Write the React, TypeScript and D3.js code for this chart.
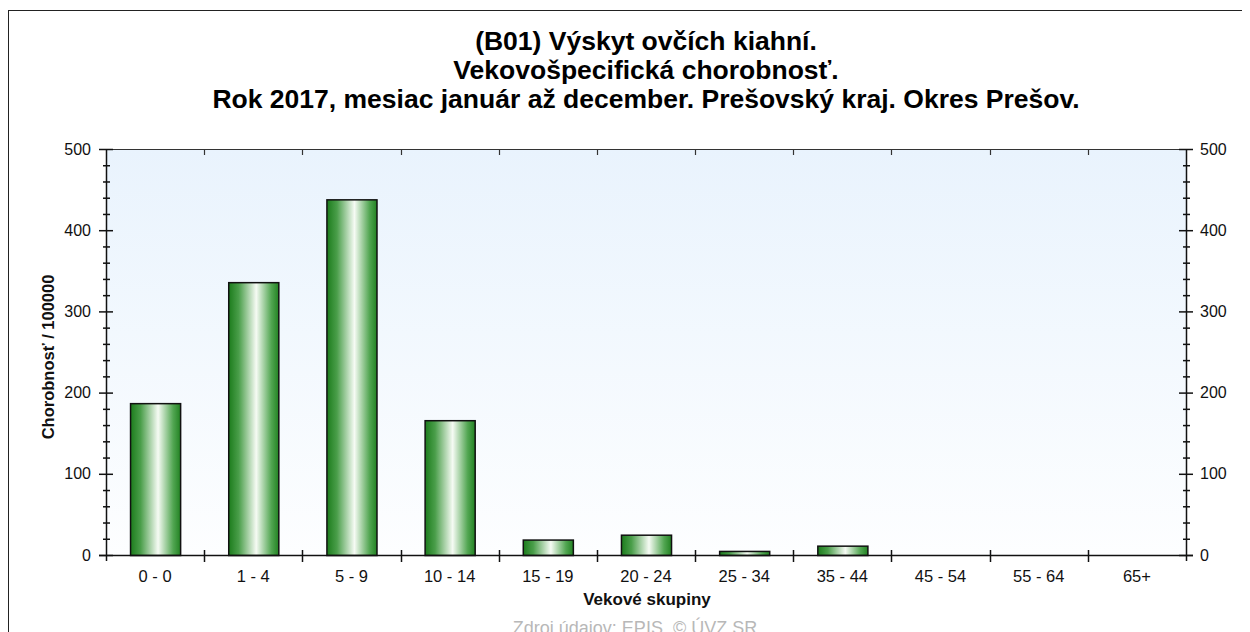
import React from 'react'
import { scaleBand, scaleLinear, range } from 'd3'

const categories = ['0 - 0', '1 - 4', '5 - 9', '10 - 14', '15 - 19', '20 - 24', '25 - 34', '35 - 44', '45 - 54', '55 - 64', '65+']
const values = [187, 336, 438, 166, 19, 25, 5, 11.5, 0, 0, 0]
const yTicks = [0, 100, 200, 300, 400, 500]
const titleLines = [
  '(B01) Výskyt ovčích kiahní.',
  'Vekovošpecifická chorobnosť.',
  'Rok 2017, mesiac január až december. Prešovský kraj. Okres Prešov.'
]

const font = 'Arial, "Liberation Sans", sans-serif'

const App = () => {
  // plot area in page coordinates
  const left = 106
  const right = 1186
  const top = 149
  const bottom = 555

  const scaleX = scaleBand().domain(categories).range([left, right]).paddingInner(0).paddingOuter(0)
  const scaleY = scaleLinear().domain([0, 500]).range([bottom, top])

  const barW = scaleX.bandwidth() * 0.51
  const minorTicks = range(0, 501, 20).filter(v => v % 100 !== 0)
  const bandEdges = categories.map((c, i) => left + i * scaleX.bandwidth()).concat([right])

  return (
    <svg width={1242} height={624} style={{ display: 'block' }}>
      <defs>
        <linearGradient id="bg" x1="0" y1="0" x2="0" y2="1">
          <stop offset="0" stopColor="#e9f3fd" />
          <stop offset="1" stopColor="#fdfeff" />
        </linearGradient>
        <linearGradient id="bar" x1="0" y1="0" x2="1" y2="0">
          <stop offset="0" stopColor="#1c7c1c" />
          <stop offset="0.2" stopColor="#4a9e4a" />
          <stop offset="0.55" stopColor="#f6fbf4" />
          <stop offset="0.85" stopColor="#52a652" />
          <stop offset="1" stopColor="#228222" />
        </linearGradient>
      </defs>
      <g transform="translate(-8,-8)">
        <rect x={8.5} y={10.5} width={1300} height={700} fill="white" stroke="#222" strokeWidth={1} />

        {titleLines.map((t, i) => (
          <text key={t} x={646} y={50 + i * 29} textAnchor="middle" fontFamily={font} fontWeight="bold" fontSize={26.5} fill="#000">
            {t}
          </text>
        ))}

        <rect x={left} y={top} width={right - left} height={bottom - top} fill="url(#bg)" />

        {categories.map((c, i) => (
          <rect
            key={`bar-${c}`}
            x={scaleX(c) + (scaleX.bandwidth() - barW) / 2 + 0.5}
            y={scaleY(values[i]) + 0.5}
            width={barW}
            height={bottom - scaleY(values[i])}
            fill="url(#bar)"
            stroke="#111"
            strokeWidth={values[i] > 0 ? 1.5 : 0}
          />
        ))}

        {/* frame lines */}
        <line x1={left - 7} x2={right + 7} y1={top + 0.5} y2={top + 0.5} stroke="#333" strokeWidth={1.2} />
        <line x1={left - 7} x2={right + 7} y1={bottom + 0.5} y2={bottom + 0.5} stroke="#111" strokeWidth={1.5} />
        <line x1={left + 0.5} x2={left + 0.5} y1={top} y2={bottom + 6} stroke="#111" strokeWidth={1.5} />
        <line x1={right + 0.5} x2={right + 0.5} y1={top} y2={bottom + 6} stroke="#111" strokeWidth={1.5} />

        {/* y ticks both sides */}
        {[left, right].map(ax => (
          <g key={`ax-${ax}`}>
            {yTicks.map(v => (
              <line key={`M${v}`} x1={ax - 7} x2={ax + 7} y1={scaleY(v) + 0.5} y2={scaleY(v) + 0.5} stroke="#111" strokeWidth={1.5} />
            ))}
            {minorTicks.map(v => (
              <line key={`m${v}`} x1={ax - 3} x2={ax + 4} y1={scaleY(v) + 0.5} y2={scaleY(v) + 0.5} stroke="#111" strokeWidth={1.5} />
            ))}
          </g>
        ))}

        {/* x ticks */}
        {bandEdges.slice(1, -1).map(x => (
          <g key={`xt-${x}`}>
            <line x1={Math.round(x) + 0.5} x2={Math.round(x) + 0.5} y1={bottom - 5} y2={bottom + 7} stroke="#111" strokeWidth={1.5} />
            <line x1={Math.round(x) + 0.5} x2={Math.round(x) + 0.5} y1={top} y2={top + 6} stroke="#333" strokeWidth={1.2} />
          </g>
        ))}

        {yTicks.map(v => (
          <g key={`yl-${v}`}>
            <text x={91} y={scaleY(v) + 5.5} textAnchor="end" fontFamily={font} fontSize={16} fill="#111">{v}</text>
            <text x={1200} y={scaleY(v) + 5.5} textAnchor="start" fontFamily={font} fontSize={16} fill="#111">{v}</text>
          </g>
        ))}

        {categories.map(c => (
          <text key={`xl-${c}`} x={scaleX(c) + scaleX.bandwidth() / 2} y={582} textAnchor="middle" fontFamily={font} fontSize={16.5} fill="#111">
            {c}
          </text>
        ))}

        <text x={647} y={605} textAnchor="middle" fontFamily={font} fontWeight="bold" fontSize={17} fill="#111">Vekové skupiny</text>
        <text transform={`translate(54,357) rotate(-90)`} textAnchor="middle" fontFamily={font} fontWeight="bold" fontSize={16.5} fill="#111">
          Chorobnosť / 100000
        </text>
        <text x={635} y={634} textAnchor="middle" fontFamily={font} fontSize={18} fill="#b8b8b8">
          Zdroj údajov: EPIS, © ÚVZ SR
        </text>
      </g>
    </svg>
  )
}

export default App
